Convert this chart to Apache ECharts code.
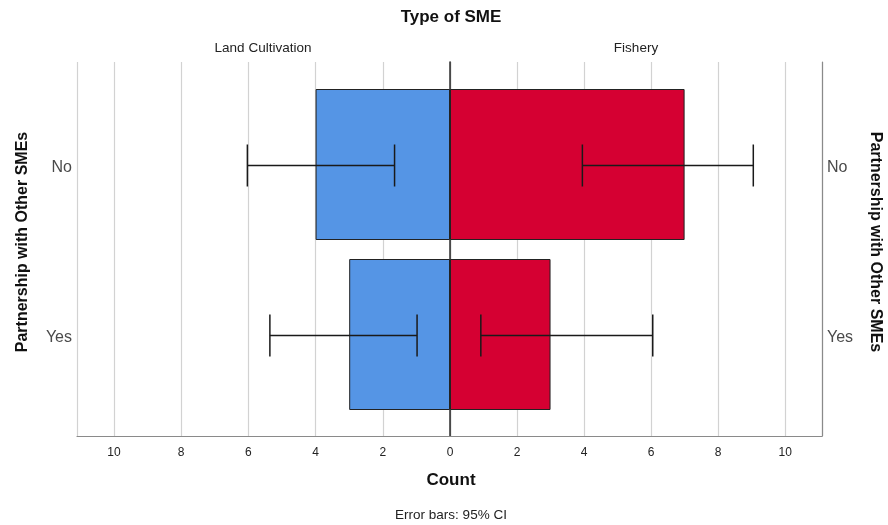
<!DOCTYPE html>
<html>
<head>
<meta charset="utf-8">
<script src="https://cdn.jsdelivr.net/npm/echarts@6/dist/echarts.min.js"></script>
<style>
html,body{margin:0;padding:0;background:#fff;}
#chart{width:888px;height:525px;}
</style>
</head>
<body>
<div id="chart"></div>
<script>
// ---- data ----
const categories = ['No', 'Yes'];
const panelNames = ['Land Cultivation', 'Fishery'];
const landCounts = [4, 3];
const fisheryCounts = [7, 3];
const landCILow = [1.65, 0.98];
const landCIHigh = [6.03, 5.36];
const fisheryCILow = [3.95, 0.92];
const fisheryCIHigh = [9.05, 6.05];
const axisMax = 11.1;
const tickStep = 2;

// ---- styles ----
const FONT = '"Liberation Sans", Arial, sans-serif';
const BLUE = '#5595e5';
const RED = '#d50032';

const chart = echarts.init(document.getElementById('chart'), null, {renderer: 'canvas'});

function errData(lo, hi) {
  return categories.map((c, i) => [lo[i], hi[i], i]);
}

function renderErr(params, api) {
  const lo = api.coord([api.value(0), api.value(2)]);
  const hi = api.coord([api.value(1), api.value(2)]);
  const y = lo[1] + 1;
  const cap = 21;
  const style = {stroke: '#1a1a1a', lineWidth: 1.5};
  return {
    type: 'group',
    children: [
      {type: 'line', shape: {x1: lo[0], y1: y, x2: hi[0], y2: y}, style},
      {type: 'line', shape: {x1: lo[0], y1: y - cap, x2: lo[0], y2: y + cap}, style},
      {type: 'line', shape: {x1: hi[0], y1: y - cap, x2: hi[0], y2: y + cap}, style}
    ]
  };
}

const hiddenX = (inv) => ({type: 'value', min: 0, max: axisMax, inverse: inv, show: false});
const frameX = (gi, inv) => ({
  type: 'value', gridIndex: gi, min: 0, max: axisMax, interval: tickStep, inverse: inv,
  axisLine: {show: true, lineStyle: {color: '#8a8a8a', width: 1.2}},
  axisTick: {show: false},
  splitLine: {show: true, lineStyle: {color: '#d2d2d2', width: 1.2}},
  axisLabel: {
    show: true, fontFamily: FONT, fontSize: 12, color: '#222', margin: 11,
    showMaxLabel: false, showMinLabel: !inv
  }
});

const catLabel = {
  margin: 5,
  formatter: '{c|{value}}',
  rich: {c: {fontFamily: FONT, fontSize: 16, color: '#4a4a4a', padding: [7, 0, 0, 0]}}
};

const option = {
  animation: false,
  backgroundColor: '#fff',
  grid: [
    {left: 77, width: 373, top: 79.5, height: 340},
    {left: 450, width: 372, top: 79.5, height: 340},
    {left: 77, width: 373, top: 62, height: 374},
    {left: 450, width: 372, top: 62, height: 374}
  ],
  xAxis: [
    Object.assign({gridIndex: 0}, hiddenX(true)),
    Object.assign({gridIndex: 1}, hiddenX(false)),
    frameX(2, true),
    frameX(3, false)
  ],
  yAxis: [
    {
      type: 'category', gridIndex: 0, data: categories, inverse: true, position: 'left',
      axisLine: {show: false}, axisTick: {show: false}, splitLine: {show: false},
      axisLabel: catLabel
    },
    {
      type: 'category', gridIndex: 1, data: categories, inverse: true, position: 'right',
      axisLine: {show: false}, axisTick: {show: false}, splitLine: {show: false},
      axisLabel: catLabel
    },
    {
      type: 'value', gridIndex: 2, min: 0, max: 1, position: 'left',
      axisLine: {show: true, lineStyle: {color: '#8a8a8a', width: 1.2}},
      axisTick: {show: false}, axisLabel: {show: false}, splitLine: {show: false}
    },
    {
      type: 'value', gridIndex: 3, min: 0, max: 1, position: 'left',
      axisLine: {show: true, lineStyle: {color: '#333', width: 1.5}},
      axisTick: {show: false}, axisLabel: {show: false}, splitLine: {show: false}
    },
    {
      type: 'value', gridIndex: 3, min: 0, max: 1, position: 'right',
      axisLine: {show: true, lineStyle: {color: '#8a8a8a', width: 1.2}},
      axisTick: {show: false}, axisLabel: {show: false}, splitLine: {show: false}
    }
  ],
  series: [
    {
      type: 'bar', name: panelNames[0], xAxisIndex: 0, yAxisIndex: 0,
      data: landCounts, barWidth: 151,
      itemStyle: {color: BLUE, borderColor: '#222', borderWidth: 1}
    },
    {
      type: 'bar', name: panelNames[1], xAxisIndex: 1, yAxisIndex: 1,
      data: fisheryCounts, barWidth: 151,
      itemStyle: {color: RED, borderColor: '#222', borderWidth: 1}
    },
    {
      type: 'custom', xAxisIndex: 0, yAxisIndex: 0, z: 5,
      data: errData(landCILow, landCIHigh), renderItem: renderErr
    },
    {
      type: 'custom', xAxisIndex: 1, yAxisIndex: 1, z: 5,
      data: errData(fisheryCILow, fisheryCIHigh), renderItem: renderErr
    }
  ],
  graphic: [
    {type: 'text', x: 451, y: 17, style: {text: 'Type of SME', font: 'bold 17px ' + FONT, fill: '#111', textAlign: 'center', textVerticalAlign: 'middle'}},
    {type: 'text', x: 263, y: 48, style: {text: panelNames[0], font: '13.5px ' + FONT, fill: '#222', textAlign: 'center', textVerticalAlign: 'middle'}},
    {type: 'text', x: 636, y: 48, style: {text: panelNames[1], font: '13.5px ' + FONT, fill: '#222', textAlign: 'center', textVerticalAlign: 'middle'}},
    {type: 'text', x: 451, y: 480, style: {text: 'Count', font: 'bold 17px ' + FONT, fill: '#111', textAlign: 'center', textVerticalAlign: 'middle'}},
    {type: 'text', x: 451, y: 515, style: {text: 'Error bars: 95% CI', font: '13.5px ' + FONT, fill: '#222', textAlign: 'center', textVerticalAlign: 'middle'}},
    {type: 'text', x: 23, y: 242, rotation: Math.PI / 2, style: {text: 'Partnership with Other SMEs', font: 'bold 16px ' + FONT, fill: '#111', textAlign: 'center', textVerticalAlign: 'middle'}},
    {type: 'text', x: 875, y: 242, rotation: -Math.PI / 2, style: {text: 'Partnership with Other SMEs', font: 'bold 16px ' + FONT, fill: '#111', textAlign: 'center', textVerticalAlign: 'middle'}}
  ]
};

chart.setOption(option);
</script>
</body>
</html>
